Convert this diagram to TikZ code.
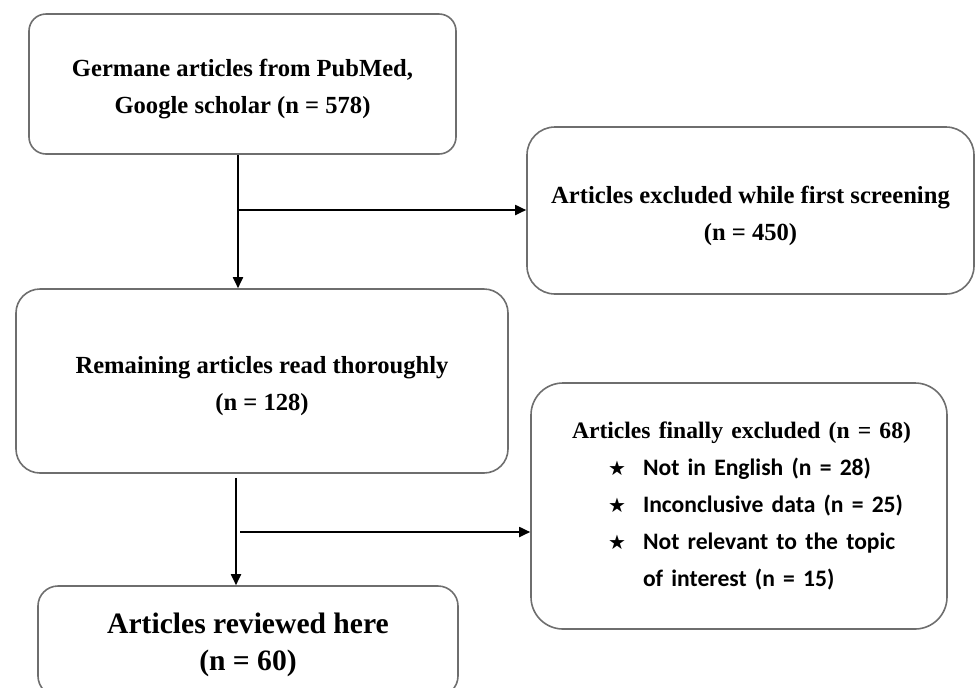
\documentclass[tikz,border=0pt]{standalone}
\usepackage{fontspec}
\usetikzlibrary{arrows.meta}
\setmainfont{Liberation Serif}
\newfontfamily\itemfont{Carlito}
\newfontfamily\starfont{DejaVu Sans}
\definecolor{boxgray}{RGB}{110,110,110}
\newcommand{\lowstrut}{\rule{0pt}{14pt}}
\newcommand{\staritem}[1]{\hspace*{29.5pt}\makebox[17.5pt][l]{\starfont\fontsize{10}{10}\selectfont ★}{\itemfont\bfseries\fontsize{11.8}{18.5}\selectfont #1}}
\begin{document}
\begin{tikzpicture}[x=0.5pt, y=-0.5pt,
  box/.style={draw=boxgray, line width=0.8pt, align=center, font=\bfseries\fontsize{12.3}{18.5}\selectfont},
  arrow/.style={-{Triangle[length=5.5pt,width=5pt]}, line width=0.9pt}]
\useasboundingbox (0,0) rectangle (975,687);
\clip (0,0) rectangle (975,687);
\node[box, rounded corners=8.5pt, minimum width=213.5pt, minimum height=70pt] (germane) at (242.5,84) {\lowstrut Germane articles from PubMed,\\Google scholar (n = 578)};
\node[box, rounded corners=14pt, minimum width=223.5pt, minimum height=83.5pt] (first) at (750.5,210.5) {\lowstrut Articles excluded while first screening\\(n = 450)};
\node[box, rounded corners=12pt, minimum width=246pt, minimum height=92pt] (read) at (262,381) {\lowstrut Remaining articles read thoroughly\\(n = 128)};
\node[box, rounded corners=16pt, minimum width=208pt, minimum height=123pt, text width=190pt, align=left] (final) at (739,506) {\hspace*{11.5pt}\mbox{\fontsize{11.8}{18.5}\selectfont Articles finally excluded (n = 68)}\\
  \staritem{Not in English (n = 28)}\\
  \staritem{Inconclusive data (n = 25)}\\
  \staritem{\makebox[137pt][s]{Not relevant to the topic}}\\
  \hspace*{47pt}{\itemfont\bfseries\fontsize{11.8}{18.5}\selectfont of interest (n = 15)}};
\node[box, rounded corners=10pt, minimum width=210pt, minimum height=55pt, font=\bfseries\fontsize{14.8}{18.5}\selectfont] (review) at (248,641) {\lowstrut Articles reviewed here\\(n = 60)};
% branch points
\coordinate (split1) at (238,210);
\coordinate (split2) at (236,532);
\draw[arrow] (germane.south -| split1) -- (read.north -| split1);
\draw[arrow] (split1) -- (split1 -| first.west);
\draw[arrow] ([yshift=-2pt]read.south -| split2) -- (review.north -| split2);
\draw[arrow] ([xshift=2pt]split2) -- (split2 -| final.west);
\end{tikzpicture}
\end{document}
